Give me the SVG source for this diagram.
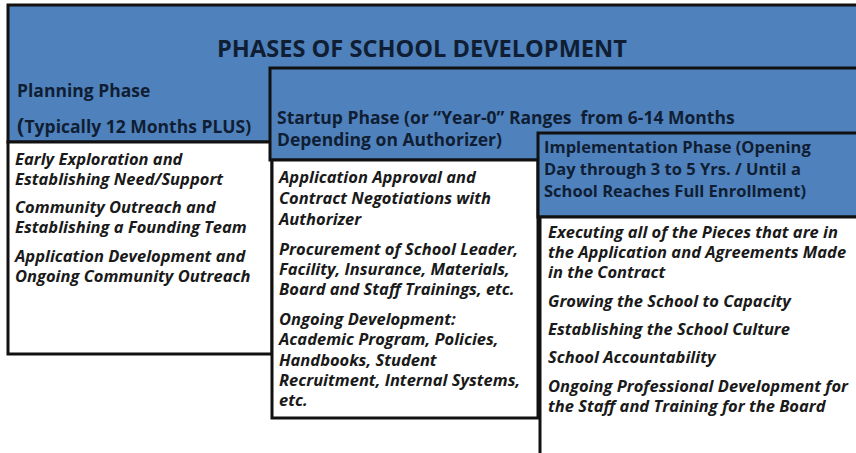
<svg xmlns="http://www.w3.org/2000/svg" width="856" height="453" viewBox="0 0 856 453">
<style>
.hdr{fill:#4f81bd;stroke:#111;stroke-width:3}
.box{fill:#fff;stroke:#111;stroke-width:3}
.t{font-family:"Open Sans","Liberation Sans",sans-serif;font-weight:bold;fill:#0f1e33}
.h{font-size:17.5px}
.i{font-family:"Open Sans","Liberation Sans",sans-serif;font-weight:bold;font-style:italic;font-size:16.5px;fill:#1a1a1a}
</style>
<rect x="0" y="0" width="856" height="453" fill="#fff"/>
<g id="title">
<rect class="hdr" x="8" y="5" width="900" height="137"/>
<text class="t" x="422" y="57" font-size="23.6" text-anchor="middle">PHASES OF SCHOOL DEVELOPMENT</text>
</g>
<g id="planning">
<text class="t h" x="17" y="97">Planning Phase</text>
<text class="t h" x="17" y="133"><tspan font-size="22">(</tspan>Typically 12 Months PLUS)</text>
<rect class="box" x="8" y="142" width="264" height="212"/>
<text class="i" x="15"><tspan x="15" y="165">Early Exploration and</tspan><tspan x="15" y="185">Establishing Need/Support</tspan><tspan x="15" y="213">Community Outreach and</tspan><tspan x="15" y="233">Establishing a Founding Team</tspan><tspan x="15" y="262">Application Development and</tspan><tspan x="15" y="282">Ongoing Community Outreach</tspan></text>
</g>
<g id="startup">
<rect class="hdr" x="270" y="68" width="600" height="92"/>
<text class="t h" xml:space="preserve"><tspan x="277" y="124">Startup Phase (or “Year-0” Ranges  from 6-14 Months</tspan><tspan x="277" y="146">Depending on Authorizer)</tspan></text>
<rect class="box" x="272" y="160" width="266" height="258"/>
<text class="i"><tspan x="279" y="183">Application Approval and</tspan><tspan x="279" y="204">Contract Negotiations with</tspan><tspan x="279" y="225">Authorizer</tspan><tspan x="279" y="255">Procurement of School Leader,</tspan><tspan x="279" y="275">Facility, Insurance, Materials,</tspan><tspan x="279" y="295">Board and Staff Trainings, etc.</tspan><tspan x="279" y="325">Ongoing Development:</tspan><tspan x="279" y="345">Academic Program, Policies,</tspan><tspan x="279" y="366">Handbooks, Student</tspan><tspan x="279" y="386">Recruitment, Internal Systems,</tspan><tspan x="279" y="406">etc.</tspan></text>
</g>
<g id="implementation">
<rect class="hdr" x="538" y="133" width="330" height="84"/>
<text class="t" font-size="16.5"><tspan x="544" y="153">Implementation Phase (Opening</tspan><tspan x="544" y="175">Day through 3 to 5 Yrs. / Until a</tspan><tspan x="544" y="197">School Reaches Full Enrollment)</tspan></text>
<rect class="box" x="540" y="217" width="330" height="250"/>
<text class="i"><tspan x="548" y="238">Executing all of the Pieces that are in</tspan><tspan x="548" y="258">the Application and Agreements Made</tspan><tspan x="548" y="278">in the Contract</tspan><tspan x="548" y="307">Growing the School to Capacity</tspan><tspan x="548" y="335">Establishing the School Culture</tspan><tspan x="548" y="363">School Accountability</tspan><tspan x="548" y="392">Ongoing Professional Development for</tspan><tspan x="548" y="412">the Staff and Training for the Board</tspan></text>
</g>
<g id="connectors"/>
</svg>
